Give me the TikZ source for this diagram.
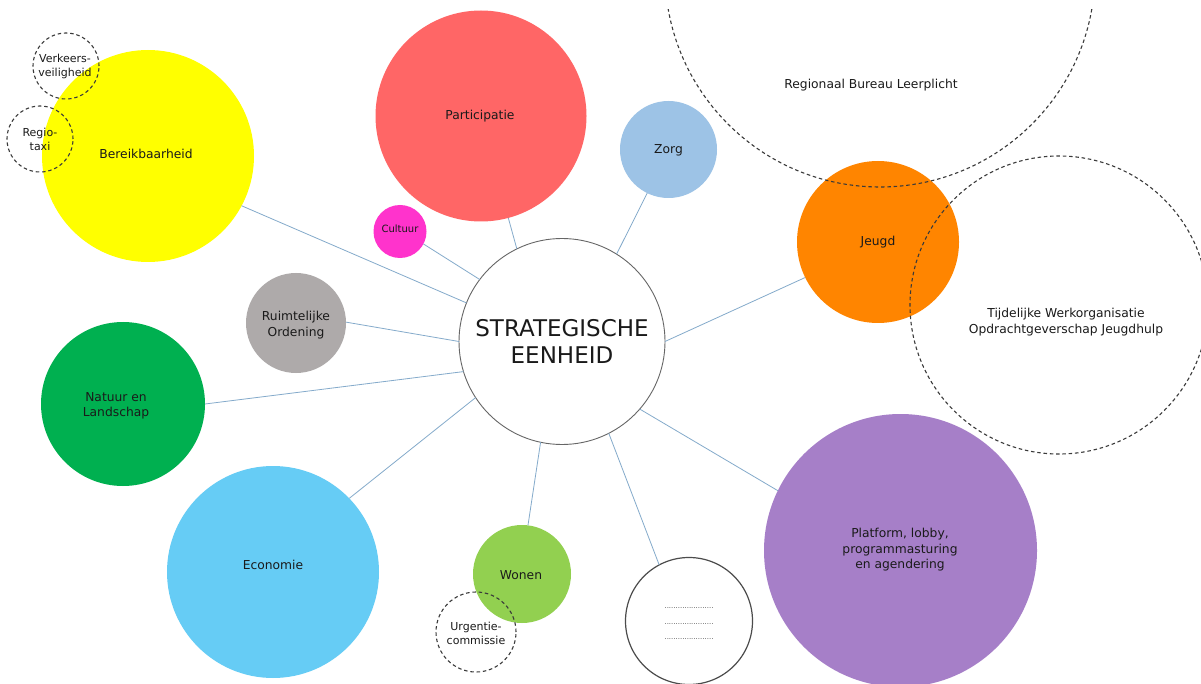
\documentclass[tikz,border=0pt]{standalone}
\usepackage{fontspec}
\setmainfont{DejaVu Sans}
\definecolor{yel}{HTML}{FFFF00}
\definecolor{redc}{HTML}{FF6666}
\definecolor{zorgc}{HTML}{9DC3E6}
\definecolor{cultc}{HTML}{FF33CC}
\definecolor{grayc}{HTML}{AEAAAA}
\definecolor{natc}{HTML}{00B050}
\definecolor{ecoc}{HTML}{66CCF5}
\definecolor{wonc}{HTML}{92D050}
\definecolor{jeugc}{HTML}{FF8500}
\definecolor{platc}{HTML}{A67FC8}
\definecolor{linec}{HTML}{84AACB}
\definecolor{dashc}{HTML}{3A3A3A}
\definecolor{txt}{HTML}{1A1A1A}
\begin{document}
\begin{tikzpicture}[x=1pt,y=-1pt,
  bub/.style={circle, inner sep=0pt, outer sep=0pt, draw=none},
  conn/.style={draw=linec, line width=0.8pt},
  dashring/.style={circle, inner sep=0pt, outer sep=0pt, draw=dashc, line width=1.1pt, dash pattern=on 3.5pt off 2.8pt},
  lbl/.style={font=\fontsize{12.3}{15.5}\selectfont, text=txt, align=center, inner sep=0pt},
  slbl/.style={font=\fontsize{11}{14}\selectfont, text=txt, align=center, inner sep=0pt}
]
\useasboundingbox (0,0) rectangle (1201,684);
\fill[white] (0,0) rectangle (1201,684);

% coloured bubbles
\node[bub, fill=yel,   minimum size=212pt] (ber) at (148,156) {};
\node[bub, fill=redc,  minimum size=211pt] (par) at (481,116) {};
\node[bub, fill=zorgc, minimum size=97pt]  (zor) at (668.5,149.5) {};
\node[bub, fill=cultc, minimum size=53pt]  (cul) at (400,231.5) {};
\node[bub, fill=grayc, minimum size=100pt] (ro)  at (296,323) {};
\node[bub, fill=natc,  minimum size=164pt] (nat) at (123,404) {};
\node[bub, fill=ecoc,  minimum size=212pt] (eco) at (273,572) {};
\node[bub, fill=wonc,  minimum size=98pt]  (won) at (522,574) {};
\node[bub, fill=jeugc, minimum size=162pt] (jeu) at (878,242) {};
\node[bub, fill=platc, minimum size=273pt] (pla) at (900.5,550.5) {};
\node[bub, fill=white, draw=black!70, line width=1.2pt, minimum size=127pt] (dot) at (689,621) {};
\node[bub, fill=white, draw=black!60, line width=0.9pt, minimum size=206pt] (se) at (562,341.5) {};

% connectors
\draw[conn] (se.116.7) -- (par.-75.8);
\draw[conn] (se.58.6)  -- (zor.-116.8);
\draw[conn] (se.143.8) -- (cul.-28.4);
\draw[conn] (se.158.4) -- (ber.-28.2);
\draw[conn] (se.180.3) -- (ro.1.2);
\draw[conn] (se.197)   -- (nat.0);
\draw[conn] (se.213)   -- (eco.44);
\draw[conn] (se.258)   -- (won.83);
\draw[conn] (se.297.6) -- (dot.118.7);
\draw[conn] (se.-41.3) -- (pla.154.6);
\draw[conn] (se.0.8)   -- (jeu.206.6);

% dashed rings
\begin{scope}
  \clip (0,10) rectangle (1201,684);
  \node[dashring, minimum size=430pt] (rbl) at (880,-28) {};
\end{scope}
\node[dashring, minimum size=298pt] (two) at (1059,305) {};
\node[dashring, minimum size=66pt] (vv)  at (66,66) {};
\node[dashring, minimum size=66pt] (rt)  at (40,139) {};
\node[dashring, minimum size=80pt] (uc)  at (476,632) {};

% labels
\node[font=\fontsize{23}{27}\selectfont, text=txt, align=center, inner sep=0pt] (set) at (se) {STRATEGISCHE\\EENHEID};
\node[lbl] (bert) at (146,154) {Bereikbaarheid};
\node[lbl] (part) at (480,116) {Participatie};
\node[lbl] (zort) at (668.5,150) {Zorg};
\node[font=\fontsize{10}{12}\selectfont, text=txt, inner sep=0pt] (cult) at (400,229) {Cultuur};
\node[lbl] (rot)  at (296,325) {Ruimtelijke\\Ordening};
\node[lbl] (natt) at (116,406) {Natuur en\\Landschap};
\node[lbl] (ecot) at (273,565) {Economie};
\node[lbl] (wont) at (521,575) {Wonen};
\node[lbl] (jeut) at (878,242) {Jeugd};
\node[lbl] (plat) at (900,550) {Platform, lobby,\\programmasturing\\en agendering};
\node[lbl] (rblt) at (871,85) {Regionaal Bureau Leerplicht};
\node[lbl] (twot) at (1066,322) {Tijdelijke Werkorganisatie\\Opdrachtgeverschap Jeugdhulp};
\node[slbl] (vvt) at (65,66) {Verkeers-\\veiligheid};
\node[slbl] (rtt) at (40,139) {Regio-\\taxi};
\node[slbl] (uct) at (476,633) {Urgentie-\\commissie};
\node[font=\fontsize{7}{15.5}\selectfont, text=black!70, align=center, inner sep=0pt] (dott) at (689,624) {......................\\......................\\......................};
\end{tikzpicture}
\end{document}
